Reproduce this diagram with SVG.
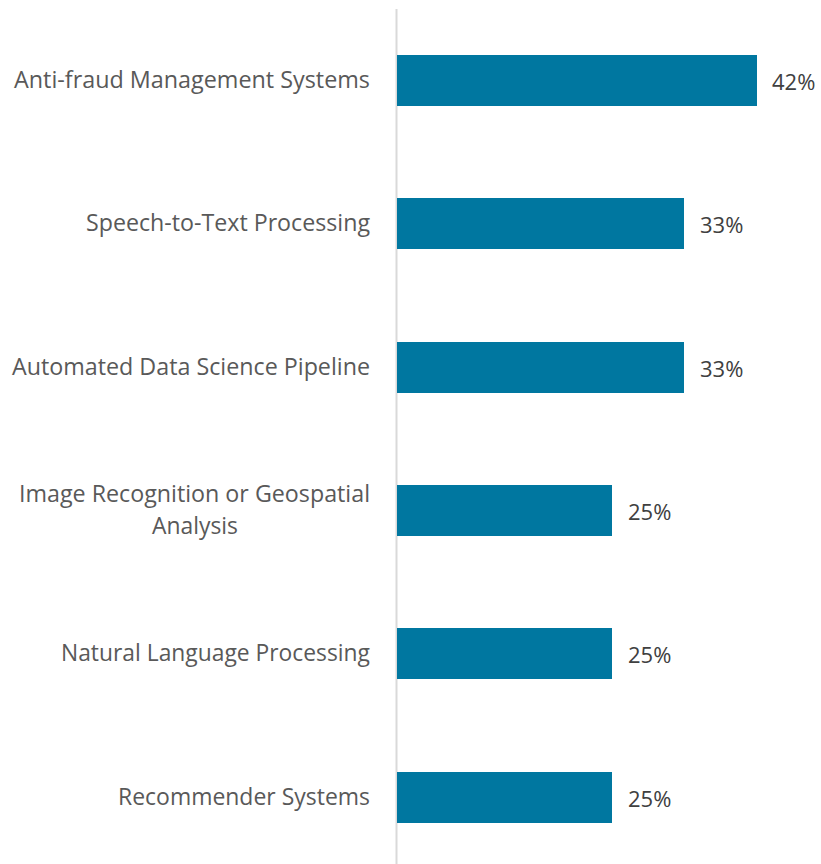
<svg xmlns="http://www.w3.org/2000/svg" width="821" height="864" viewBox="0 0 821 864">
<style>
.bar{fill:#0077A0}
.lbl{font-family:"Open Sans","Liberation Sans",sans-serif;font-size:23px;fill:#595959;text-anchor:end}
.val{font-family:"Open Sans","Liberation Sans",sans-serif;font-size:22px;fill:#404040}
</style>
<rect width="821" height="864" fill="#fff"/>
<g id="axis"><line x1="396.5" y1="9" x2="396.5" y2="864" stroke="#D9D9D9" stroke-width="2"/></g>
<g id="bar1"><rect class="bar" x="397" y="55" width="360" height="51"/><text class="lbl" x="370" y="88" textLength="356" lengthAdjust="spacingAndGlyphs">Anti-fraud Management Systems</text><text class="val" x="772" y="90">42%</text></g>
<g id="bar2"><rect class="bar" x="397" y="198" width="287" height="51"/><text class="lbl" x="370" y="231" textLength="284" lengthAdjust="spacingAndGlyphs">Speech-to-Text Processing</text><text class="val" x="700" y="233">33%</text></g>
<g id="bar3"><rect class="bar" x="397" y="342" width="287" height="51"/><text class="lbl" x="370" y="375" textLength="358" lengthAdjust="spacingAndGlyphs">Automated Data Science Pipeline</text><text class="val" x="700" y="377">33%</text></g>
<g id="bar4"><rect class="bar" x="397" y="485" width="215" height="51"/><text class="lbl" x="370" y="502" textLength="351" lengthAdjust="spacingAndGlyphs">Image Recognition or Geospatial</text><text class="lbl" x="238" y="534" textLength="86" lengthAdjust="spacingAndGlyphs">Analysis</text><text class="val" x="628" y="520">25%</text></g>
<g id="bar5"><rect class="bar" x="397" y="628" width="215" height="51"/><text class="lbl" x="370" y="661" textLength="309" lengthAdjust="spacingAndGlyphs">Natural Language Processing</text><text class="val" x="628" y="663">25%</text></g>
<g id="bar6"><rect class="bar" x="397" y="772" width="215" height="51"/><text class="lbl" x="370" y="805" textLength="252" lengthAdjust="spacingAndGlyphs">Recommender Systems</text><text class="val" x="628" y="807">25%</text></g>
</svg>
